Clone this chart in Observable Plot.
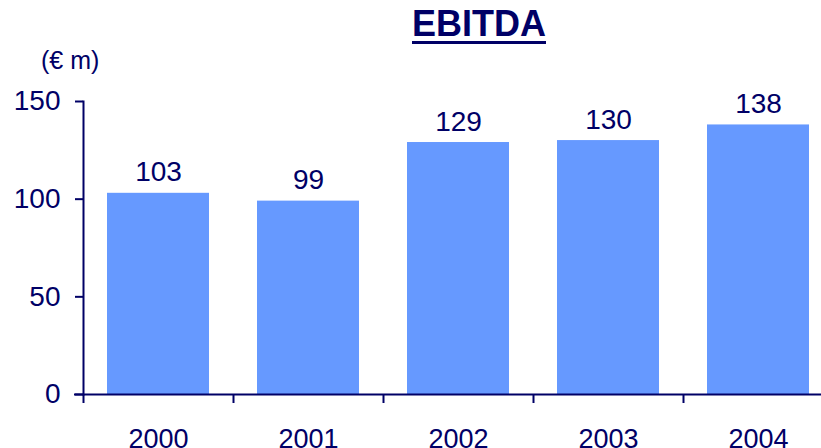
<!DOCTYPE html>
<html>
<head>
<meta charset="utf-8">
<script src="https://cdn.jsdelivr.net/npm/d3@7"></script>
<script src="https://cdn.jsdelivr.net/npm/@observablehq/plot@0.6"></script>
<style>
  html, body { margin: 0; padding: 0; background: #fff; overflow: hidden; width: 821px; height: 448px; }
  #wrap { position: relative; width: 821px; height: 448px; overflow: hidden; font-family: "Liberation Sans", Arial, sans-serif; color: #000066; }
  #title { position: absolute; left: 0; width: 958px; top: 4px; text-align: center; font-weight: bold; font-size: 36px; line-height: 40px;
           text-decoration: underline; text-decoration-thickness: 3px; text-underline-offset: 5px; }
  #unit { position: absolute; left: 41px; top: 45px; font-size: 25px; line-height: 30px; }
  #chart { position: absolute; left: 0; top: 0; width: 840px; }
  #chart svg { max-width: none !important; }
</style>
</head>
<body>
<div id="wrap">
  <div id="chart"></div>
  <div id="title">EBITDA</div>
  <div id="unit">(€ m)</div>
</div>
<script>
const years = ["2000", "2001", "2002", "2003", "2004"];
const values = [103, 99, 129, 130, 138];
const yTicks = [0, 50, 100, 150];

const navy = "#000066";
const data = years.map((y, i) => ({year: y, value: values[i]}));

const plot = Plot.plot({
  width: 840,
  height: 470,
  marginTop: 101,
  marginBottom: 76,
  marginLeft: 83,
  marginRight: 7,
  style: {fontFamily: "'Liberation Sans', Arial, sans-serif", background: "transparent", maxWidth: "none"},
  x: {domain: years, paddingInner: 0.32, paddingOuter: 0.16, axis: null, label: null},
  y: {domain: [0, 150], axis: null, label: null},
  marks: [
    Plot.barY(data, {x: "year", y: "value", fill: "#6699FF"}),
    Plot.text(data, {x: "year", y: "value", text: d => String(d.value), lineAnchor: "bottom", dy: -12, fontSize: 28, fill: navy}),
    Plot.frame({anchor: "left", stroke: navy, strokeWidth: 2}),
    Plot.ruleY([0], {stroke: navy, strokeWidth: 2, dx: -9}),
    Plot.axisY({ticks: yTicks, tickSize: 8, tickPadding: 15, color: navy, strokeWidth: 2, fontSize: 28, tickFormat: d => String(d), label: null}),
    Plot.axisX({tickSize: 9, tickFormat: null, color: navy, strokeWidth: 2, dx: -75, label: null}),
    Plot.axisX({tickSize: 0, tickPadding: 34, color: navy, fontSize: 27, label: null})
  ]
});
document.getElementById("chart").appendChild(plot);
</script>
</body>
</html>
